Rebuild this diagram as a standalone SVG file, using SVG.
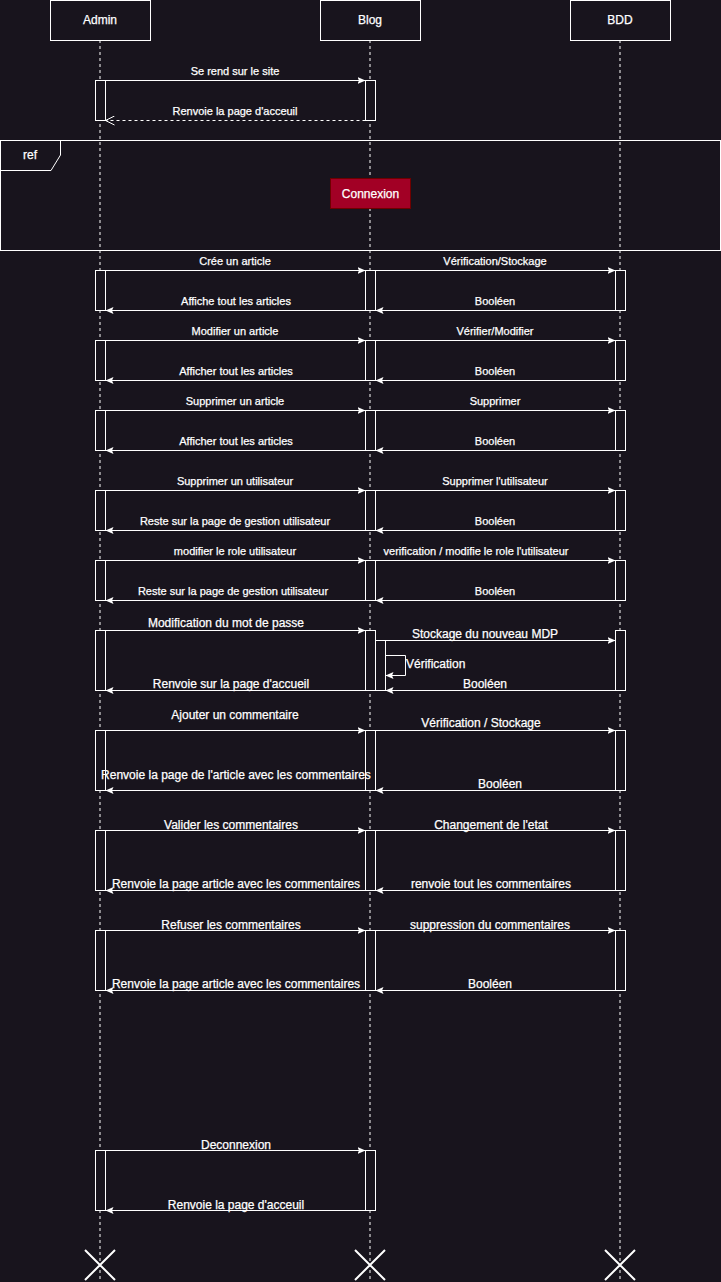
<svg xmlns="http://www.w3.org/2000/svg" width="721" height="1282" viewBox="0 0 721 1282">
<style>
.bg{fill:#18141d}
.box{fill:#18141d;stroke:#ffffff;stroke-width:1}
.life{stroke:#ffffff;stroke-width:1;stroke-dasharray:3 3;fill:none}
.bar{fill:#18141d;stroke:#ffffff;stroke-width:1}
.msg{stroke:#ffffff;stroke-width:1;fill:none;marker-end:url(#arr)}
.ret{stroke:#ffffff;stroke-width:1;fill:none;stroke-dasharray:3 3;marker-end:url(#open)}
.cross{stroke:#ffffff;stroke-width:2;fill:none}
text{font-family:"Liberation Sans",Arial,sans-serif;fill:#ffffff;text-anchor:middle;stroke:#ffffff;stroke-width:0.25}
.s{font-size:11px}
.m{font-size:12px}
.l{text-anchor:start}
</style>
<defs>
<marker id="arr" markerUnits="userSpaceOnUse" markerWidth="9" markerHeight="8" refX="8" refY="3.5" orient="auto">
<path d="M0,0 L8,3.5 L0,7 L1.5,3.5 Z" fill="#ffffff"/>
</marker>
<marker id="open" markerUnits="userSpaceOnUse" markerWidth="10" markerHeight="10" refX="9" refY="5" orient="auto">
<path d="M0,0.5 L9,5 L0,9.5" fill="none" stroke="#ffffff" stroke-width="1"/>
</marker>
</defs>
<rect class="bg" x="0" y="0" width="721" height="1282"/>

<g id="lifelines">
<line class="life" x1="100" y1="40" x2="100" y2="1282"/>
<line class="life" x1="370" y1="40" x2="370" y2="1282"/>
<line class="life" x1="620" y1="40" x2="620" y2="1282"/>
</g>

<g id="admin">
<rect class="box" x="50.5" y="0.5" width="100" height="40"/>
<text class="m" x="100" y="24">Admin</text>
</g>
<g id="blog">
<rect class="box" x="320.5" y="0.5" width="100" height="40"/>
<text class="m" x="370" y="24">Blog</text>
</g>
<g id="bdd">
<rect class="box" x="570.5" y="0.5" width="100" height="40"/>
<text class="m" x="620" y="24">BDD</text>
</g>

<g id="ref-frame">
<rect x="0.5" y="140.5" width="720" height="110" fill="none" stroke="#ffffff" stroke-width="1"/>
<path d="M0.5,170.5 L51,170.5 L60.5,155 L60.5,140.5" fill="none" stroke="#ffffff" stroke-width="1"/>
<text class="m" x="30" y="159">ref</text>
</g>
<g id="connexion">
<rect x="330.5" y="178.5" width="80" height="30" fill="#a20025" stroke="#6f0000" stroke-width="1"/>
<text class="m" x="370.5" y="197.5">Connexion</text>
</g>

<g id="activations">
<rect class="bar" x="95.5" y="80.5" width="10" height="40"/>
<rect class="bar" x="365.5" y="80.5" width="10" height="40"/>

<rect class="bar" x="95.5" y="270.5" width="10" height="40"/>
<rect class="bar" x="365.5" y="270.5" width="10" height="40"/>
<rect class="bar" x="615.5" y="270.5" width="10" height="40"/>

<rect class="bar" x="95.5" y="340.5" width="10" height="40"/>
<rect class="bar" x="365.5" y="340.5" width="10" height="40"/>
<rect class="bar" x="615.5" y="340.5" width="10" height="40"/>

<rect class="bar" x="95.5" y="410.5" width="10" height="40"/>
<rect class="bar" x="365.5" y="410.5" width="10" height="40"/>
<rect class="bar" x="615.5" y="410.5" width="10" height="40"/>

<rect class="bar" x="95.5" y="490.5" width="10" height="40"/>
<rect class="bar" x="365.5" y="490.5" width="10" height="40"/>
<rect class="bar" x="615.5" y="490.5" width="10" height="40"/>

<rect class="bar" x="95.5" y="560.5" width="10" height="40"/>
<rect class="bar" x="365.5" y="560.5" width="10" height="40"/>
<rect class="bar" x="615.5" y="560.5" width="10" height="40"/>

<rect class="bar" x="95.5" y="630.5" width="10" height="60"/>
<rect class="bar" x="365.5" y="630.5" width="10" height="60"/>
<rect class="bar" x="375.5" y="640.5" width="10" height="50"/>
<rect class="bar" x="615.5" y="630.5" width="10" height="60"/>

<rect class="bar" x="95.5" y="730.5" width="10" height="60"/>
<rect class="bar" x="365.5" y="730.5" width="10" height="60"/>
<rect class="bar" x="615.5" y="730.5" width="10" height="60"/>

<rect class="bar" x="95.5" y="830.5" width="10" height="60"/>
<rect class="bar" x="365.5" y="830.5" width="10" height="60"/>
<rect class="bar" x="615.5" y="830.5" width="10" height="60"/>

<rect class="bar" x="95.5" y="930.5" width="10" height="60"/>
<rect class="bar" x="365.5" y="930.5" width="10" height="60"/>
<rect class="bar" x="615.5" y="930.5" width="10" height="60"/>

<rect class="bar" x="95.5" y="1150.5" width="10" height="60"/>
<rect class="bar" x="365.5" y="1150.5" width="10" height="60"/>
</g>

<g id="connectors">
<line class="msg" x1="105.5" y1="80.5" x2="365.5" y2="80.5"/>
<line class="ret" x1="365.5" y1="120.5" x2="105.5" y2="120.5"/>

<line class="msg" x1="105.5" y1="270.5" x2="365.5" y2="270.5"/>
<line class="msg" x1="375.5" y1="270.5" x2="615.5" y2="270.5"/>
<line class="msg" x1="365.5" y1="310.5" x2="105.5" y2="310.5"/>
<line class="msg" x1="615.5" y1="310.5" x2="375.5" y2="310.5"/>

<line class="msg" x1="105.5" y1="340.5" x2="365.5" y2="340.5"/>
<line class="msg" x1="375.5" y1="340.5" x2="615.5" y2="340.5"/>
<line class="msg" x1="365.5" y1="380.5" x2="105.5" y2="380.5"/>
<line class="msg" x1="615.5" y1="380.5" x2="375.5" y2="380.5"/>

<line class="msg" x1="105.5" y1="410.5" x2="365.5" y2="410.5"/>
<line class="msg" x1="375.5" y1="410.5" x2="615.5" y2="410.5"/>
<line class="msg" x1="365.5" y1="450.5" x2="105.5" y2="450.5"/>
<line class="msg" x1="615.5" y1="450.5" x2="375.5" y2="450.5"/>

<line class="msg" x1="105.5" y1="490.5" x2="365.5" y2="490.5"/>
<line class="msg" x1="375.5" y1="490.5" x2="615.5" y2="490.5"/>
<line class="msg" x1="365.5" y1="530.5" x2="105.5" y2="530.5"/>
<line class="msg" x1="615.5" y1="530.5" x2="375.5" y2="530.5"/>

<line class="msg" x1="105.5" y1="560.5" x2="365.5" y2="560.5"/>
<line class="msg" x1="375.5" y1="560.5" x2="615.5" y2="560.5"/>
<line class="msg" x1="365.5" y1="600.5" x2="105.5" y2="600.5"/>
<line class="msg" x1="615.5" y1="600.5" x2="375.5" y2="600.5"/>

<line class="msg" x1="105.5" y1="630.5" x2="365.5" y2="630.5"/>
<line class="msg" x1="385.5" y1="640.5" x2="615.5" y2="640.5"/>
<path class="msg" d="M385.5,655.5 L405.5,655.5 L405.5,675.5 L385.5,675.5"/>
<line class="msg" x1="365.5" y1="690.5" x2="105.5" y2="690.5"/>
<line class="msg" x1="615.5" y1="690.5" x2="385.5" y2="690.5"/>

<line class="msg" x1="105.5" y1="730.5" x2="365.5" y2="730.5"/>
<line class="msg" x1="375.5" y1="730.5" x2="615.5" y2="730.5"/>
<line class="msg" x1="365.5" y1="790.5" x2="105.5" y2="790.5"/>
<line class="msg" x1="615.5" y1="790.5" x2="375.5" y2="790.5"/>

<line class="msg" x1="105.5" y1="830.5" x2="365.5" y2="830.5"/>
<line class="msg" x1="375.5" y1="830.5" x2="615.5" y2="830.5"/>
<line class="msg" x1="365.5" y1="890.5" x2="105.5" y2="890.5"/>
<line class="msg" x1="615.5" y1="890.5" x2="375.5" y2="890.5"/>

<line class="msg" x1="105.5" y1="930.5" x2="365.5" y2="930.5"/>
<line class="msg" x1="375.5" y1="930.5" x2="615.5" y2="930.5"/>
<line class="msg" x1="365.5" y1="990.5" x2="105.5" y2="990.5"/>
<line class="msg" x1="615.5" y1="990.5" x2="375.5" y2="990.5"/>

<line class="msg" x1="105.5" y1="1150.5" x2="365.5" y2="1150.5"/>
<line class="msg" x1="365.5" y1="1210.5" x2="105.5" y2="1210.5"/>

<text class="s" x="235" y="75">Se rend sur le site</text>
<text class="s" x="235" y="115">Renvoie la page d'acceuil</text>

<text class="s" x="235" y="265">Crée un article</text>
<text class="s" x="495" y="265">Vérification/Stockage</text>
<text class="s" x="236" y="305">Affiche tout les articles</text>
<text class="s" x="495" y="305">Booléen</text>

<text class="s" x="235" y="335">Modifier un article</text>
<text class="s" x="495" y="335">Vérifier/Modifier</text>
<text class="s" x="236" y="375">Afficher tout les articles</text>
<text class="s" x="495" y="375">Booléen</text>

<text class="s" x="235" y="405">Supprimer un article</text>
<text class="s" x="495" y="405">Supprimer</text>
<text class="s" x="236" y="445">Afficher tout les articles</text>
<text class="s" x="495" y="445">Booléen</text>

<text class="s" x="235" y="485">Supprimer un utilisateur</text>
<text class="s" x="495" y="485">Supprimer l'utilisateur</text>
<text class="s" x="235" y="525">Reste sur la page de gestion utilisateur</text>
<text class="s" x="495" y="525">Booléen</text>

<text class="s" x="235" y="555">modifier le role utilisateur</text>
<text class="s" x="476" y="555">verification / modifie le role l'utilisateur</text>
<text class="s" x="233" y="595">Reste sur la page de gestion utilisateur</text>
<text class="s" x="495" y="595">Booléen</text>

<text class="m" x="226" y="627">Modification du mot de passe</text>
<text class="m" x="485" y="638">Stockage du nouveau MDP</text>
<text class="m l" x="406" y="668">Vérification</text>
<text class="m" x="231" y="688">Renvoie sur la page d'accueil</text>
<text class="m" x="485" y="688">Booléen</text>

<text class="m" x="235" y="719">Ajouter un commentaire</text>
<text class="m" x="481" y="727">Vérification / Stockage</text>
<text class="m" x="236" y="779">Renvoie la page de l'article avec les commentaires</text>
<text class="m" x="500" y="788">Booléen</text>

<text class="m" x="231" y="829">Valider les commentaires</text>
<text class="m" x="491" y="829">Changement de l'etat</text>
<text class="m" x="236" y="888">Renvoie la page article avec les commentaires</text>
<text class="m" x="491" y="888">renvoie tout les commentaires</text>

<text class="m" x="231" y="929">Refuser les commentaires</text>
<text class="m" x="490" y="929">suppression du commentaires</text>
<text class="m" x="236" y="988">Renvoie la page article avec les commentaires</text>
<text class="m" x="490" y="988">Booléen</text>

<text class="m" x="236" y="1149">Deconnexion</text>
<text class="m" x="236" y="1209">Renvoie la page d'acceuil</text>
</g>

<g id="destroy">
<path class="cross" d="M85,1250 L115,1280 M115,1250 L85,1280"/>
<path class="cross" d="M355,1250 L385,1280 M385,1250 L355,1280"/>
<path class="cross" d="M605,1250 L635,1280 M635,1250 L605,1280"/>
</g>
</svg>
